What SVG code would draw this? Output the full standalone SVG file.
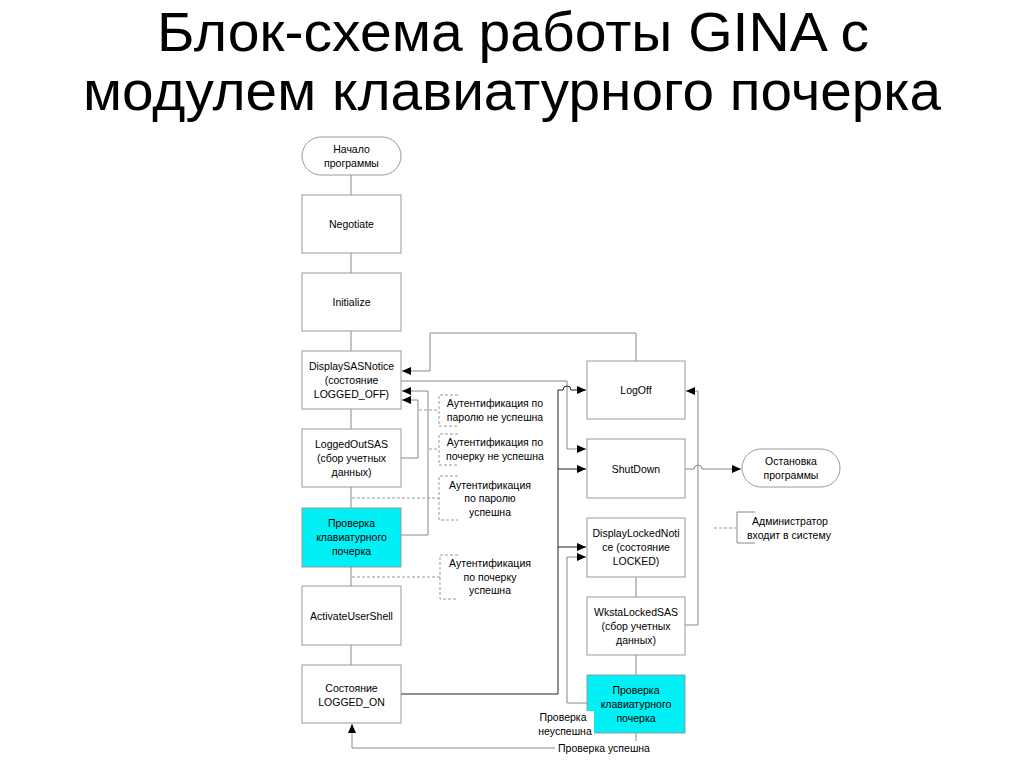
<svg xmlns="http://www.w3.org/2000/svg" width="1024" height="768" viewBox="0 0 1024 768">
<defs>
<marker id="ar" markerWidth="9" markerHeight="8" refX="9" refY="4" orient="auto" markerUnits="userSpaceOnUse">
<path d="M0,0 L9,4 L0,8 z" fill="#000"/>
</marker>
<style>
.box{fill:#fff;stroke:#999;stroke-width:1}
.cy{fill:#00f0f5;stroke:#999;stroke-width:1}
.t{font-family:"Liberation Sans",Arial,sans-serif;font-size:10.5px;fill:#000;text-anchor:middle}
.ttl{font-family:"Liberation Sans",Arial,sans-serif;font-size:56px;fill:#000;text-anchor:middle}
.ln{fill:none;stroke:#888;stroke-width:1}
.dk{fill:none;stroke:#222;stroke-width:1}
.ds{fill:none;stroke:#999;stroke-width:1;stroke-dasharray:3,2}
.ar{marker-end:url(#ar)}
</style>
</defs>
<rect width="1024" height="768" fill="#fff"/>
<g id="title">
<text class="ttl" x="513" y="51" textLength="712" lengthAdjust="spacingAndGlyphs">Блок-схема работы GINA с</text>
<text class="ttl" x="512" y="110" textLength="858" lengthAdjust="spacingAndGlyphs">модулем клавиатурного почерка</text>
</g>
<g id="connectors">
<path class="ln" d="M351,175V195 M351,253V273 M351,331V351 M351,409V429 M351,487V508 M351,567V586 M351,645V665 M636,577V597 M636,655V675"/>
<path class="ln ar" d="M636,361V333H430V371H402"/>
<path class="ln ar" d="M401,381H567V449H586"/>
<path class="ln ar" d="M401,458H418V400H402"/>
<path class="ln ar" d="M401,535H428V391H402"/>
<path class="dk ar" d="M401,694H558V390H563A4,4 0 0 1 571,390H586"/>
<path class="dk ar" d="M558,469H586"/>
<path class="dk ar" d="M558,547H586"/>
<path class="ln ar" d="M587,703H567V557H586"/>
<path class="ln ar" d="M685,625H698V391H686"/>
<path class="ln ar" d="M685,469H694A4,4 0 0 1 702,469H741"/>
<path class="ln ar" d="M636,733V748H352V724"/>
</g>
<g id="n-start">
<rect class="box" x="302" y="137" width="99" height="38" rx="19"/>
<text class="t" x="351.5" y="153">Начало</text>
<text class="t" x="351.5" y="167">программы</text>
</g>
<g id="n-negotiate">
<rect class="box" x="302" y="195" width="99" height="58"/>
<text class="t" x="351.5" y="228">Negotiate</text>
</g>
<g id="n-initialize">
<rect class="box" x="302" y="273" width="99" height="58"/>
<text class="t" x="351.5" y="306">Initialize</text>
</g>
<g id="n-displaysas">
<rect class="box" x="302" y="351" width="99" height="58"/>
<text class="t" x="351.5" y="370">DisplaySASNotice</text>
<text class="t" x="351.5" y="384">(состояние</text>
<text class="t" x="351.5" y="398">LOGGED_OFF)</text>
</g>
<g id="n-loggedoutsas">
<rect class="box" x="302" y="429" width="99" height="58"/>
<text class="t" x="351.5" y="448">LoggedOutSAS</text>
<text class="t" x="351.5" y="462">(сбор учетных</text>
<text class="t" x="351.5" y="476">данных)</text>
</g>
<g id="n-check1">
<rect class="cy" x="302" y="508" width="99" height="59"/>
<text class="t" x="351.5" y="527">Проверка</text>
<text class="t" x="351.5" y="541">клавиатурного</text>
<text class="t" x="351.5" y="555">почерка</text>
</g>
<g id="n-activate">
<rect class="box" x="302" y="586" width="99" height="59"/>
<text class="t" x="351.5" y="620">ActivateUserShell</text>
</g>
<g id="n-loggedon">
<rect class="box" x="302" y="665" width="99" height="58"/>
<text class="t" x="351.5" y="692">Состояние</text>
<text class="t" x="351.5" y="706">LOGGED_ON</text>
</g>
<g id="n-logoff">
<rect class="box" x="587" y="361" width="98" height="58"/>
<text class="t" x="636" y="394">LogOff</text>
</g>
<g id="n-shutdown">
<rect class="box" x="587" y="439" width="98" height="59"/>
<text class="t" x="636" y="473">ShutDown</text>
</g>
<g id="n-displaylocked">
<rect class="box" x="587" y="518" width="98" height="59"/>
<text class="t" x="636" y="537">DisplayLockedNoti</text>
<text class="t" x="636" y="551">ce (состояние</text>
<text class="t" x="636" y="565">LOCKED)</text>
</g>
<g id="n-wkstalocked">
<rect class="box" x="587" y="597" width="98" height="58"/>
<text class="t" x="636" y="616">WkstaLockedSAS</text>
<text class="t" x="636" y="630">(сбор учетных</text>
<text class="t" x="636" y="644">данных)</text>
</g>
<g id="n-check2">
<rect class="cy" x="587" y="675" width="98" height="58"/>
<text class="t" x="636" y="694">Проверка</text>
<text class="t" x="636" y="708">клавиатурного</text>
<text class="t" x="636" y="722">почерка</text>
</g>
<g id="n-stop">
<rect class="box" x="742" y="449" width="98" height="38" rx="19"/>
<text class="t" x="791" y="465">Остановка</text>
<text class="t" x="791" y="479">программы</text>
</g>
<g id="a-pass-fail">
<path class="ds" d="M419,410H439 M458,395H439V426H458"/>
<text class="t" x="495" y="407">Аутентификация по</text>
<text class="t" x="495" y="421">паролю не успешна</text>
</g>
<g id="a-hand-fail">
<path class="ds" d="M429,449H439 M458,434H439V465H458"/>
<text class="t" x="495" y="446">Аутентификация по</text>
<text class="t" x="495" y="460">почерку не успешна</text>
</g>
<g id="a-pass-ok">
<path class="ds" d="M352,498H439 M458,476H439V520H458"/>
<text class="t" x="490" y="489">Аутентификация</text>
<text class="t" x="490" y="502">по паролю</text>
<text class="t" x="490" y="516">успешна</text>
</g>
<g id="a-hand-ok">
<path class="ds" d="M352,577H440 M458,555H440V599H458"/>
<text class="t" x="490" y="567">Аутентификация</text>
<text class="t" x="490" y="581">по почерку</text>
<text class="t" x="490" y="594">успешна</text>
</g>
<g id="a-admin">
<path class="ds" d="M714,528H736"/>
<path class="ln" d="M755,512H737V543H755" stroke="#aaa"/>
<text class="t" x="790" y="525">Администратор</text>
<text class="t" x="789" y="539">входит в систему</text>
</g>
<g id="l-fail">
<rect x="537" y="711" width="57" height="26" fill="#fff"/>
<text class="t" x="563" y="721">Проверка</text>
<text class="t" x="565" y="735">неуспешна</text>
</g>
<g id="l-ok">
<rect x="555" y="741" width="98" height="14" fill="#fff"/>
<text class="t" x="604" y="752">Проверка успешна</text>
</g>
</svg>
